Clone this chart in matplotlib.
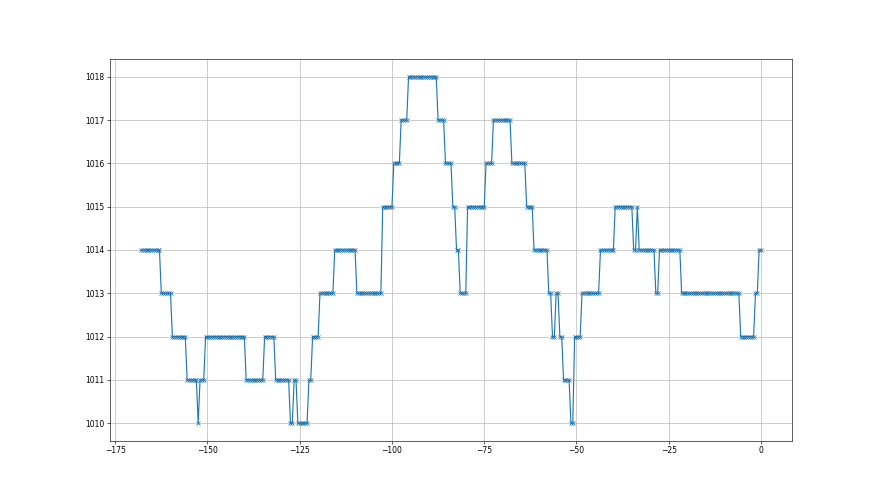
import numpy as np
import matplotlib
matplotlib.use("Agg")
import matplotlib.pyplot as plt

levels = [1014, 1013, 1012, 1011, 1010, 1011, 1012, 1011, 1012, 1011,
          1010, 1011, 1010, 1011, 1012, 1013, 1014, 1013, 1015, 1016,
          1017, 1018, 1017, 1016, 1015, 1014, 1013, 1015, 1016, 1017,
          1016, 1015, 1014, 1013, 1012, 1013, 1012, 1011, 1010, 1012,
          1013, 1014, 1015, 1014, 1015, 1014, 1013, 1014, 1013, 1012,
          1013, 1014]
counts = [11, 6, 8, 6, 1, 3, 22, 10, 6, 8,
          2, 2, 6, 2, 4, 8, 12, 14, 6, 4,
          4, 16, 4, 4, 2, 2, 4, 10, 4, 10,
          8, 4, 8, 2, 2, 2, 2, 4, 2, 4,
          10, 8, 10, 2, 1, 9, 2, 12, 32, 8,
          2, 2]
x_start = -168.0
x_step = 0.5

y = np.repeat(levels, counts)
x = x_start + x_step * np.arange(len(y))

fig = plt.figure(figsize=(16, 9), dpi=55)
ax = fig.add_subplot(111)
ax.plot(x, y, marker='x', color='#1f77b4')
ax.grid(True)
fig.savefig("out.png", dpi=55)
